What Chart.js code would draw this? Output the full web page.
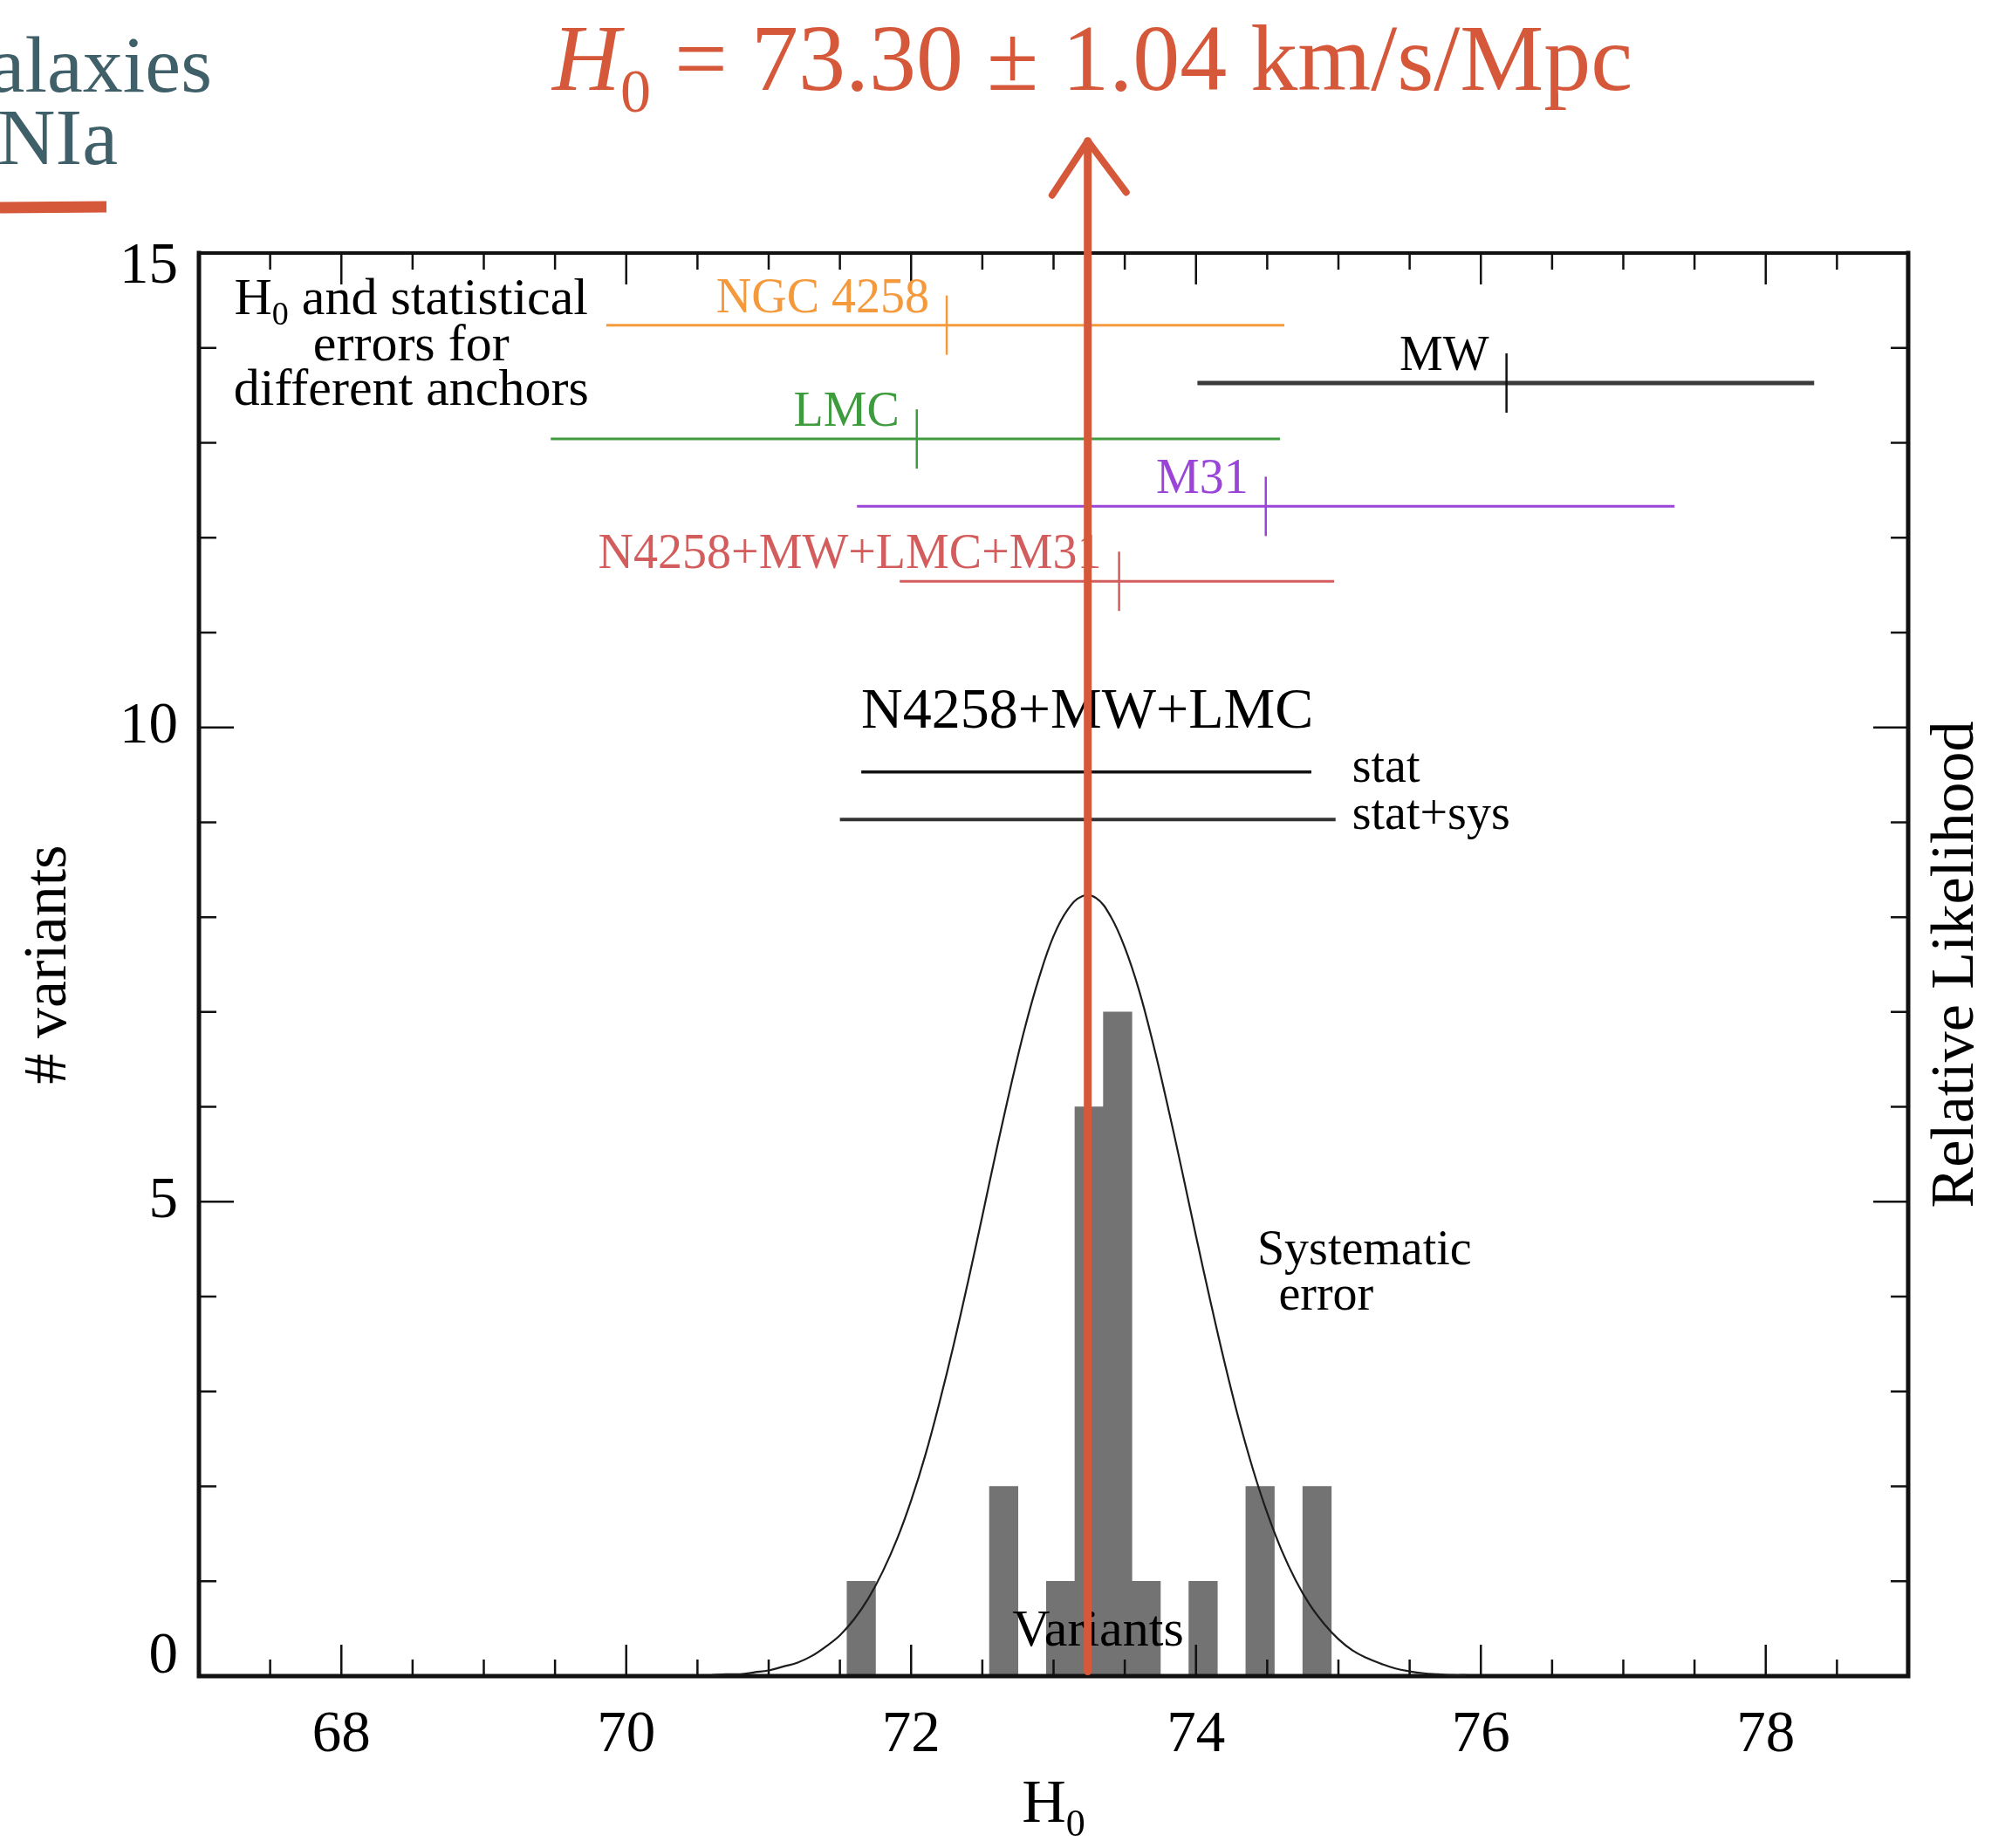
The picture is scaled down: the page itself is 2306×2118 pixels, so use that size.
<!DOCTYPE html>
<html><head><meta charset="utf-8">
<style>html,body{margin:0;padding:0;background:#fff;overflow:hidden}canvas{display:block}</style>
<script src="https://cdn.jsdelivr.net/npm/chart.js@4.4.1/dist/chart.umd.min.js"></script>
</head><body>
<canvas id="c" width="2306" height="2118"></canvas>
<script>
// ---------------- DATA ----------------
const binCenters = [71.65, 72.65, 73.05, 73.25, 73.45, 73.65, 74.05, 74.45, 74.85];
const binCounts  = [1, 2, 1, 6, 7, 1, 1, 2, 2];

const likelihoodX = [70.6, 70.7, 70.8, 70.9, 71.0, 71.1, 71.2, 71.3, 71.4, 71.5, 71.6, 71.7, 71.8, 71.9, 72.0, 72.1, 72.2, 72.3, 72.4, 72.5, 72.6, 72.7, 72.8, 72.9, 73.0, 73.1, 73.2, 73.3, 73.4, 73.5, 73.6, 73.7, 73.8, 73.9, 74.0, 74.1, 74.2, 74.3, 74.4, 74.5, 74.6, 74.7, 74.8, 74.9, 75.0, 75.1, 75.2, 75.3, 75.4, 75.5, 75.6, 75.7, 75.8, 75.9];
const likelihoodY = [0.01, 0.02, 0.02, 0.04, 0.06, 0.10, 0.14, 0.21, 0.31, 0.43, 0.60, 0.82, 1.10, 1.44, 1.85, 2.33, 2.89, 3.50, 4.16, 4.85, 5.55, 6.22, 6.84, 7.37, 7.80, 8.08, 8.22, 8.20, 8.01, 7.68, 7.23, 6.66, 6.02, 5.34, 4.64, 3.96, 3.31, 2.71, 2.18, 1.72, 1.33, 1.01, 0.75, 0.55, 0.39, 0.27, 0.19, 0.13, 0.08, 0.05, 0.03, 0.02, 0.01, 0.01];

const anchorNames = ['NGC 4258', 'MW', 'LMC', 'M31', 'N4258+MW+LMC+M31'];
const anchorH0    = [72.25, 76.18, 72.04, 74.49, 73.46];
const anchorLow   = [69.86, 74.01, 69.47, 71.62, 71.92];
const anchorHigh  = [74.62, 78.34, 74.59, 77.36, 74.97];
const anchorRow   = [14.24, 13.63, 13.04, 12.33, 11.54];

const combinedName   = 'N4258+MW+LMC';
const combinedLabels = ['stat', 'stat+sys'];
const combinedLow    = [71.65, 71.50];
const combinedHigh   = [74.81, 74.98];
const combinedRow    = [9.53, 9.03];

const xTickLabels = [68, 70, 72, 74, 76, 78];
const yTickLabels = [0, 5, 10, 15];

const headlineValue = '73.30';
const headlineError = '1.04';
const arrowShaftX = [73.24, 73.24];
const arrowShaftY = [0.05, 16.18];
const arrowHeadX  = [72.99, 73.24, 73.51];
const arrowHeadY  = [15.61, 16.18, 15.64];

// ---------------- STYLES ----------------
const SERIF = '"Liberation Serif", "Times New Roman", serif';
const anchorColors = ['#F49A3C', '#3a3a3a', '#3E9B3E', '#9A45D8', '#D35C5C'];
const anchorWidths = [3, 5, 3, 3, 3];
const RED = '#D5583A';
const TEAL = '#3F5F69';

function fnt(size, italic) { return (italic ? 'italic ' : '') + size + 'px ' + SERIF; }
function drawRich(ctx, parts, x, y, align) {
  const widths = parts.map(p => { ctx.font = fnt(p.size, p.italic); return ctx.measureText(p.t).width; });
  const total = widths.reduce((a, b) => a + b, 0);
  let sx = align === 'center' ? x - total / 2 : (align === 'right' ? x - total : x);
  ctx.textAlign = 'left'; ctx.textBaseline = 'alphabetic';
  parts.forEach((p, i) => { ctx.font = fnt(p.size, p.italic); ctx.fillText(p.t, sx, y + (p.dy || 0)); sx += widths[i]; });
}

const decor = {
  id: 'decor',
  afterDatasetDraw(chart, args) {
    if (args.meta.type !== 'bar') return;
    const ctx = chart.ctx, a = chart.chartArea;
    const xs = chart.scales.x, ys = chart.scales.y;
    ctx.save();
    // frame
    ctx.strokeStyle = '#111'; ctx.lineCap = 'square';
    ctx.lineWidth = 5;
    ctx.beginPath(); ctx.moveTo(a.left, a.top); ctx.lineTo(a.left, a.bottom); ctx.lineTo(a.right, a.bottom); ctx.lineTo(a.right, a.top); ctx.stroke();
    ctx.lineWidth = 4;
    ctx.beginPath(); ctx.moveTo(a.left, a.top); ctx.lineTo(a.right, a.top); ctx.stroke();
    // inward ticks
    ctx.lineWidth = 2.5; ctx.lineCap = 'butt';
    for (let v = xs.min + 0.5; v < xs.max; v += 0.5) {
      const px = xs.getPixelForValue(v);
      const len = xTickLabels.includes(v) ? 36 : 19;
      ctx.beginPath(); ctx.moveTo(px, a.bottom); ctx.lineTo(px, a.bottom - len);
      ctx.moveTo(px, a.top); ctx.lineTo(px, a.top + len); ctx.stroke();
    }
    for (let v = ys.min + 1; v < ys.max; v += 1) {
      const py = ys.getPixelForValue(v);
      const len = yTickLabels.includes(v) ? 40 : 20;
      ctx.beginPath(); ctx.moveTo(a.left, py); ctx.lineTo(a.left + len, py);
      ctx.moveTo(a.right, py); ctx.lineTo(a.right - len, py); ctx.stroke();
    }
    // in-plot annotations
    ctx.fillStyle = '#000';
    const bx = xs.getPixelForValue(68.49);
    drawRich(ctx, [{t: 'H', size: 60}, {t: '0', size: 38, dy: 12}, {t: ' and statistical', size: 60}], bx, ys.getPixelForValue(14.36), 'center');
    drawRich(ctx, [{t: 'errors for', size: 60}], bx, ys.getPixelForValue(13.87), 'center');
    drawRich(ctx, [{t: 'different anchors', size: 60}], bx, ys.getPixelForValue(13.40), 'center');
    anchorNames.forEach((n, i) => {
      ctx.fillStyle = anchorColors[i] === '#3a3a3a' ? '#000' : anchorColors[i];
      drawRich(ctx, [{t: n, size: 56}], xs.getPixelForValue(anchorH0[i]) - 20, ys.getPixelForValue(anchorRow[i]) - 15, 'right');
    });
    ctx.fillStyle = '#000';
    drawRich(ctx, [{t: combinedName, size: 66}], xs.getPixelForValue(combinedLow[0]), ys.getPixelForValue(combinedRow[0]) - 51, 'left');
    combinedLabels.forEach((l, i) => {
      drawRich(ctx, [{t: l, size: 56}], xs.getPixelForValue(combinedHigh[1]) + 19, ys.getPixelForValue(combinedRow[i]) + 11, 'left');
    });
    drawRich(ctx, [{t: 'Systematic', size: 56}], xs.getPixelForValue(74.43), ys.getPixelForValue(4.34), 'left');
    drawRich(ctx, [{t: 'error', size: 56}], xs.getPixelForValue(74.58), ys.getPixelForValue(3.86), 'left');
    drawRich(ctx, [{t: 'Variants', size: 60}], xs.getPixelForValue(72.71), ys.getPixelForValue(0.32), 'left');
    ctx.restore();
  },
  afterDraw(chart) {
    const ctx = chart.ctx, a = chart.chartArea;
    ctx.save();
    ctx.fillStyle = '#000';
    // x axis title H0
    drawRich(ctx, [{t: 'H', size: 70}, {t: '0', size: 44, dy: 16}], (a.left + a.right) / 2, 2088, 'center');
    // right axis title, reading bottom to top
    ctx.save();
    ctx.translate(2243, (a.top + a.bottom) / 2);
    ctx.rotate(-Math.PI / 2);
    ctx.font = fnt(70); ctx.textAlign = 'center'; ctx.textBaseline = 'middle';
    ctx.fillText('Relative Likelihood', 0, 0);
    ctx.restore();
    // headline
    ctx.fillStyle = RED;
    drawRich(ctx, [{t: 'H', size: 108, italic: true}, {t: '0', size: 70, dy: 25}, {t: ' = ' + headlineValue + ' \u00B1 ' + headlineError + ' km/s/Mpc', size: 108}], 633, 103, 'left');
    // cut-off slide text at the left edge
    ctx.fillStyle = TEAL;
    drawRich(ctx, [{t: 'galaxies', size: 92}], 243, 105, 'right');
    drawRich(ctx, [{t: 'SNIa', size: 92}], 135, 188, 'right');
    ctx.strokeStyle = RED; ctx.lineWidth = 13; ctx.lineCap = 'butt';
    ctx.beginPath(); ctx.moveTo(0, 238); ctx.lineTo(122, 237); ctx.stroke();
    ctx.restore();
  }
};

const datasets = [];
datasets.push({
  type: 'bar', label: 'Variants',
  data: binCenters.map((x, i) => ({x, y: binCounts[i]})),
  backgroundColor: '#737373', borderWidth: 0, barPercentage: 1, categoryPercentage: 1, order: 9
});
datasets.push({
  type: 'line', label: 'Systematic error',
  data: likelihoodX.map((x, i) => ({x, y: likelihoodY[i]})),
  borderColor: '#1c1c1c', borderWidth: 2.2, pointRadius: 0, tension: 0.4, fill: false, order: 8
});
anchorNames.forEach((n, i) => {
  datasets.push({
    type: 'line', label: n,
    data: [{x: anchorLow[i], y: anchorRow[i]}, {x: anchorH0[i], y: anchorRow[i]}, {x: anchorHigh[i], y: anchorRow[i]}],
    borderColor: anchorColors[i], borderWidth: anchorWidths[i],
    pointRadius: [0, 34, 0], pointStyle: 'line', pointRotation: 90,
    pointBorderColor: i === 1 ? '#111' : anchorColors[i], pointBorderWidth: 2.5, pointBackgroundColor: anchorColors[i],
    fill: false, order: 3
  });
});
combinedLabels.forEach((l, i) => {
  datasets.push({
    type: 'line', label: l,
    data: [{x: combinedLow[i], y: combinedRow[i]}, {x: combinedHigh[i], y: combinedRow[i]}],
    borderColor: i === 0 ? '#111' : '#333', borderWidth: i === 0 ? 3.5 : 4, pointRadius: 0, fill: false, order: 3
  });
});
datasets.push({
  type: 'line', label: 'arrow',
  data: arrowShaftX.map((x, i) => ({x, y: arrowShaftY[i]})),
  borderColor: RED, borderWidth: 9, pointRadius: 0, clip: false, fill: false, borderCapStyle: 'round', order: 0
});
datasets.push({
  type: 'line', label: 'arrow head',
  data: arrowHeadX.map((x, i) => ({x, y: arrowHeadY[i]})),
  borderColor: RED, borderWidth: 8, pointRadius: 0, clip: false, fill: false, borderCapStyle: 'round', borderJoinStyle: 'round', order: 0
});

const tickFont = {family: SERIF, size: 67};
const yMin = yTickLabels[0], yMax = yTickLabels[yTickLabels.length - 1];
new Chart(document.getElementById('c'), {
  type: 'bar',
  data: {datasets},
  plugins: [decor],
  options: {
    responsive: false, animation: false, devicePixelRatio: 1,
    layout: {padding: {top: 290, left: 0, right: 0, bottom: 0}},
    plugins: {legend: {display: false}, tooltip: {enabled: false}},
    scales: {
      x: {
        type: 'linear', position: 'bottom', min: 67, max: 79, offset: false,
        grid: {display: false, drawTicks: false}, border: {display: false},
        ticks: {font: tickFont, color: '#000', padding: 28, maxRotation: 0, autoSkip: false},
        afterBuildTicks: s => { s.ticks = xTickLabels.map(v => ({value: v})); },
        afterFit: s => { s.height = 197; }
      },
      y: {
        type: 'linear', position: 'left', min: yMin, max: yMax,
        grid: {display: false, drawTicks: false}, border: {display: false},
        ticks: {
          color: '#000', padding: 24,
          // IDL-style: end labels nudged inward
          callback: v => v === yMax ? ['', String(v)] : (v === yMin ? [String(v), ''] : String(v)),
          font: c => ({family: SERIF, size: 67, lineHeight: (c.tick && c.tick.value === yMax) ? 0.48 : ((c.tick && c.tick.value === yMin) ? 0.63 : 1.2)})
        },
        afterBuildTicks: s => { s.ticks = yTickLabels.map(v => ({value: v})); },
        afterFit: s => { s.width = 228; },
        title: {display: true, text: '# variants', color: '#000', font: {family: SERIF, size: 70}, padding: {top: 15, bottom: 0}}
      },
      y2: {
        type: 'linear', position: 'right', min: 0, max: 15,
        grid: {display: false, drawTicks: false}, border: {display: false},
        ticks: {display: false},
        afterFit: s => { s.width = 119; }
      }
    }
  }
});
</script>
</body></html>
